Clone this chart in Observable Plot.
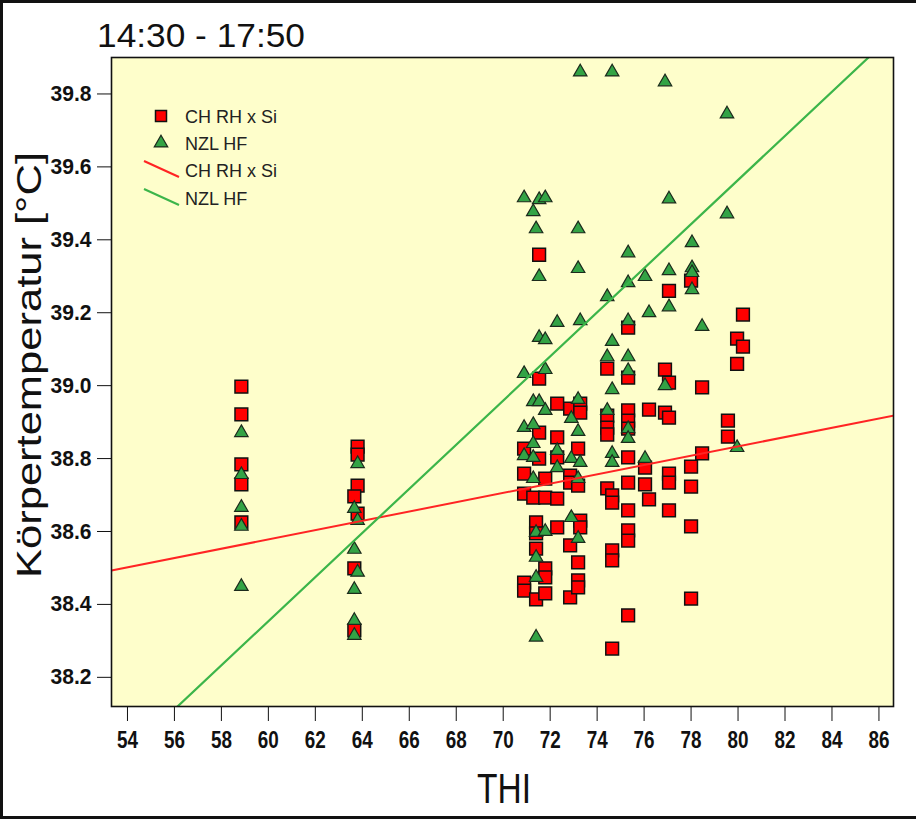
<!DOCTYPE html>
<html>
<head>
<meta charset="utf-8">
<script src="https://cdn.jsdelivr.net/npm/d3@7"></script>
<script src="https://cdn.jsdelivr.net/npm/@observablehq/plot@0.6"></script>
<style>
  html, body { margin: 0; padding: 0; background: #fff; }
  #wrap { position: relative; width: 916px; height: 819px; overflow: hidden; }
  #wrap svg { position: absolute; left: 0; top: 0; }
  .edge { position: absolute; background: #111; }
</style>
</head>
<body>
<div id="wrap"></div>
<script>
// ---- data ----
const title = "14:30 - 17:50";
const xLabel = "THI";
const yLabel = "Körpertemperatur [°C]";
const seriesNames = ["CH RH x Si", "NZL HF"];

const xDomain = [53.32, 86.62];
const yDomain = [38.12, 39.9];
const xTicks = [54, 56, 58, 60, 62, 64, 66, 68, 70, 72, 74, 76, 78, 80, 82, 84, 86];
const yTicks = [38.2, 38.4, 38.6, 38.8, 39.0, 39.2, 39.4, 39.6, 39.8];

// CH RH x Si (squares)
const chTHI = [
  58.85, 58.85, 58.85, 58.85, 58.85,
  63.8, 63.8, 63.8, 63.8, 63.66, 63.66, 63.66,
  70.89, 70.89, 70.89, 70.89, 70.89,
  71.28,
  71.40, 71.40, 71.40, 71.40,
  71.53, 71.53, 71.53, 71.53,
  71.79, 71.79, 71.79, 71.79, 71.79,
  72.30, 72.30, 72.30, 72.30, 72.30,
  72.85, 72.85, 72.85, 72.85, 72.85,
  73.19, 73.19, 73.19, 73.19, 73.19,
  73.28, 73.28, 73.28, 73.28,
  74.43, 74.43, 74.43, 74.43, 74.43,
  74.64, 74.64, 74.64, 74.64, 74.64,
  75.32, 75.32, 75.32, 75.32, 75.32, 75.32, 75.32, 75.32, 75.32, 75.32, 75.32,
  76.04, 76.04,
  76.21, 76.21,
  76.89, 76.89,
  77.06, 77.06, 77.06, 77.06, 77.06, 77.06,
  78.0, 78.0, 78.0, 78.0, 78.0,
  78.47, 78.47,
  79.57, 79.57,
  79.96, 79.96,
  80.21, 80.21
];
const chTemp = [
  38.997, 38.921, 38.784, 38.729, 38.625,
  38.833, 38.811, 38.726, 38.649, 38.696, 38.499, 38.329,
  38.827, 38.759, 38.704, 38.460, 38.438,
  38.693,
  38.625, 38.595, 38.553, 38.414,
  39.359, 39.019, 38.871, 38.800,
  38.745, 38.693, 38.499, 38.474, 38.430,
  38.951, 38.858, 38.803, 38.690, 38.611,
  38.937, 38.753, 38.734, 38.562, 38.419,
  38.827, 38.726, 38.515, 38.466, 38.447,
  38.951, 38.926, 38.630, 38.611,
  39.047, 38.918, 38.885, 38.866, 38.718,
  38.699, 38.679, 38.548, 38.521, 38.279,
  39.159, 39.022, 38.932, 38.904, 38.882, 38.803, 38.734, 38.658, 38.603, 38.575, 38.370,
  38.775, 38.729,
  38.934, 38.688,
  39.044, 38.926,
  39.260, 39.008, 38.912, 38.759, 38.734, 38.658,
  39.288, 38.778, 38.723, 38.614, 38.416,
  38.995, 38.814,
  38.904, 38.860,
  39.129, 39.060,
  39.195, 39.107
];

// NZL HF (triangles)
const nzTHI = [
  58.85, 58.85, 58.85, 58.85, 58.85,
  63.8, 63.66, 63.8, 63.66, 63.8, 63.66, 63.66, 63.66,
  70.89, 70.89, 70.89, 70.89,
  71.28, 71.28, 71.28, 71.28, 71.28, 71.28,
  71.40, 71.40, 71.40, 71.40, 71.40,
  71.53, 71.53, 71.53, 71.53,
  71.79, 71.79, 71.79, 71.79, 71.79,
  72.30, 72.30, 72.30,
  72.90, 72.90, 72.90,
  73.19, 73.19, 73.19, 73.19, 73.19, 73.19,
  73.28, 73.28, 73.28,
  74.43, 74.43, 74.43,
  74.64, 74.64, 74.64, 74.64, 74.64,
  75.32, 75.32, 75.32, 75.32, 75.32, 75.32, 75.32,
  76.04, 76.04,
  76.21,
  76.89, 76.89,
  77.06, 77.06, 77.06,
  78.04, 78.04, 78.04, 78.04,
  78.47,
  79.53, 79.53,
  79.96
];
const nzTemp = [
  38.871, 38.756, 38.666, 38.614, 38.449,
  38.786, 38.663, 38.630, 38.551, 38.488, 38.441, 38.356, 38.315,
  39.515, 39.033, 38.885, 38.808,
  39.477, 38.956, 38.893, 38.841, 38.803, 38.745,
  39.430, 38.597, 38.529, 38.474, 38.310,
  39.510, 39.299, 39.132, 38.956,
  39.515, 39.126, 39.044, 38.932, 38.600,
  39.173, 38.822, 38.775,
  38.910, 38.800, 38.638,
  39.430, 39.321, 38.962, 38.874, 38.745, 38.581,
  39.860, 39.178, 38.789,
  39.244, 39.079, 38.932,
  39.860, 39.121, 38.989, 38.814, 38.789,
  39.364, 39.282, 39.178, 39.079, 39.041, 38.882, 38.855,
  39.299, 38.800,
  39.200,
  39.833, 39.000,
  39.512, 39.315, 39.216,
  39.392, 39.323, 39.310, 39.263,
  39.162,
  39.745, 39.471,
  38.830
];

// fitted lines: temperature = intercept + slope * THI
const fitIntercepts = [37.8126, 34.724];
const fitSlopes = [0.01276, 0.0605];

// ---- build tables ----
const ch = chTHI.map((x, i) => ({x, y: chTemp[i]}));
const nz = nzTHI.map((x, i) => ({x, y: nzTemp[i]}));
const fitLines = seriesNames.map((name, k) =>
  xDomain.map(x => ({series: name, x, y: fitIntercepts[k] + fitSlopes[k] * x})));

const RED = "#ff0000";
const GREEN = "#33a345";
const REDLINE = "#ff2424";
const GREENLINE = "#3cb54a";
const FONT = "'Liberation Sans', Arial, Helvetica, sans-serif";

const chart = Plot.plot({
  width: 916,
  height: 819,
  marginLeft: 111,
  marginRight: 23,
  marginTop: 57,
  marginBottom: 113,
  style: {background: "transparent", fontFamily: FONT, color: "#111"},
  x: {domain: xDomain},
  y: {domain: yDomain},
  marks: [
    Plot.frame({fill: "#fefecb"}),
    Plot.axisX({ticks: xTicks, tickSize: 15, tickPadding: 10, fontSize: 23, fontWeight: "bold", label: null, tickFormat: d => String(d)}),
    Plot.axisY({ticks: yTicks, tickSize: 14, tickPadding: 6, fontSize: 22, fontWeight: "bold", label: null, tickFormat: d => d.toFixed(1)}),
    Plot.dot(ch, {x: "x", y: "y", symbol: "square", r: 7.2, fill: RED, stroke: "#111", strokeWidth: 1.5}),
    Plot.dot(nz, {x: "x", y: "y", symbol: "triangle", r: 5, fill: GREEN, stroke: "#1c2a1c", strokeWidth: 1.2}),
    Plot.line(fitLines[0], {x: "x", y: "y", stroke: REDLINE, strokeWidth: 2, clip: true}),
    Plot.line(fitLines[1], {x: "x", y: "y", stroke: GREENLINE, strokeWidth: 2.2, clip: true}),
    Plot.frame({stroke: "#111", strokeWidth: 1.6})
  ]
});

document.getElementById("wrap").appendChild(chart);

// ---- texts and legend ----
const svg = d3.select(chart);
svg.selectAll('[aria-label="x-axis tick label"] text')
  .attr("font-weight", "bold").attr("textLength", 21).attr("lengthAdjust", "spacingAndGlyphs");
svg.selectAll('[aria-label="y-axis tick label"] text')
  .attr("font-weight", "bold").attr("textLength", 41).attr("lengthAdjust", "spacingAndGlyphs");

svg.append("text").text(title)
  .attr("x", 97).attr("y", 47).attr("text-anchor", "start")
  .attr("font-family", FONT).attr("font-size", 33).attr("fill", "#111")
  .attr("textLength", 208).attr("lengthAdjust", "spacingAndGlyphs");

svg.append("text").text(xLabel)
  .attr("x", 504).attr("y", 803).attr("text-anchor", "middle")
  .attr("font-family", FONT).attr("font-size", 42).attr("fill", "#111")
  .attr("textLength", 54).attr("lengthAdjust", "spacingAndGlyphs");

svg.append("text").text(yLabel)
  .attr("transform", "translate(41,365) rotate(-90)").attr("text-anchor", "middle")
  .attr("font-family", FONT).attr("font-size", 35).attr("fill", "#111")
  .attr("textLength", 426).attr("lengthAdjust", "spacingAndGlyphs");

const lg = svg.append("g").attr("font-family", FONT).attr("font-size", 18).attr("fill", "#222").attr("text-anchor", "start");
const sq = 11;
lg.append("rect").attr("x", 161 - sq / 2).attr("y", 116 - sq / 2).attr("width", sq).attr("height", sq)
  .attr("fill", RED).attr("stroke", "#111").attr("stroke-width", 1.5);
lg.append("path").attr("d", d3.symbol(d3.symbolTriangle, 5 * 5 * Math.PI)()).attr("transform", "translate(161,143)")
  .attr("fill", GREEN).attr("stroke", "#1c2a1c").attr("stroke-width", 1.2);
lg.append("line").attr("x1", 144).attr("y1", 161).attr("x2", 179).attr("y2", 177).attr("stroke", REDLINE).attr("stroke-width", 2);
lg.append("line").attr("x1", 144).attr("y1", 189).attr("x2", 179).attr("y2", 205).attr("stroke", GREENLINE).attr("stroke-width", 2);
const lgText = [seriesNames[0], seriesNames[1], seriesNames[0], seriesNames[1]];
const lgY = [123, 150, 177, 205];
lgText.forEach((t, i) => lg.append("text").text(t).attr("x", 185).attr("y", lgY[i]).attr("text-anchor", "start"));

// frame edges of the screenshot
const wrap = document.getElementById("wrap");
[["0px","0px","916px","3px"],["0px","0px","3px","819px"],["0px","816px","916px","3px"]].forEach(([l,t,w,h]) => {
  const d = document.createElement("div");
  d.className = "edge";
  Object.assign(d.style, {left: l, top: t, width: w, height: h});
  wrap.appendChild(d);
});
</script>
</body>
</html>
